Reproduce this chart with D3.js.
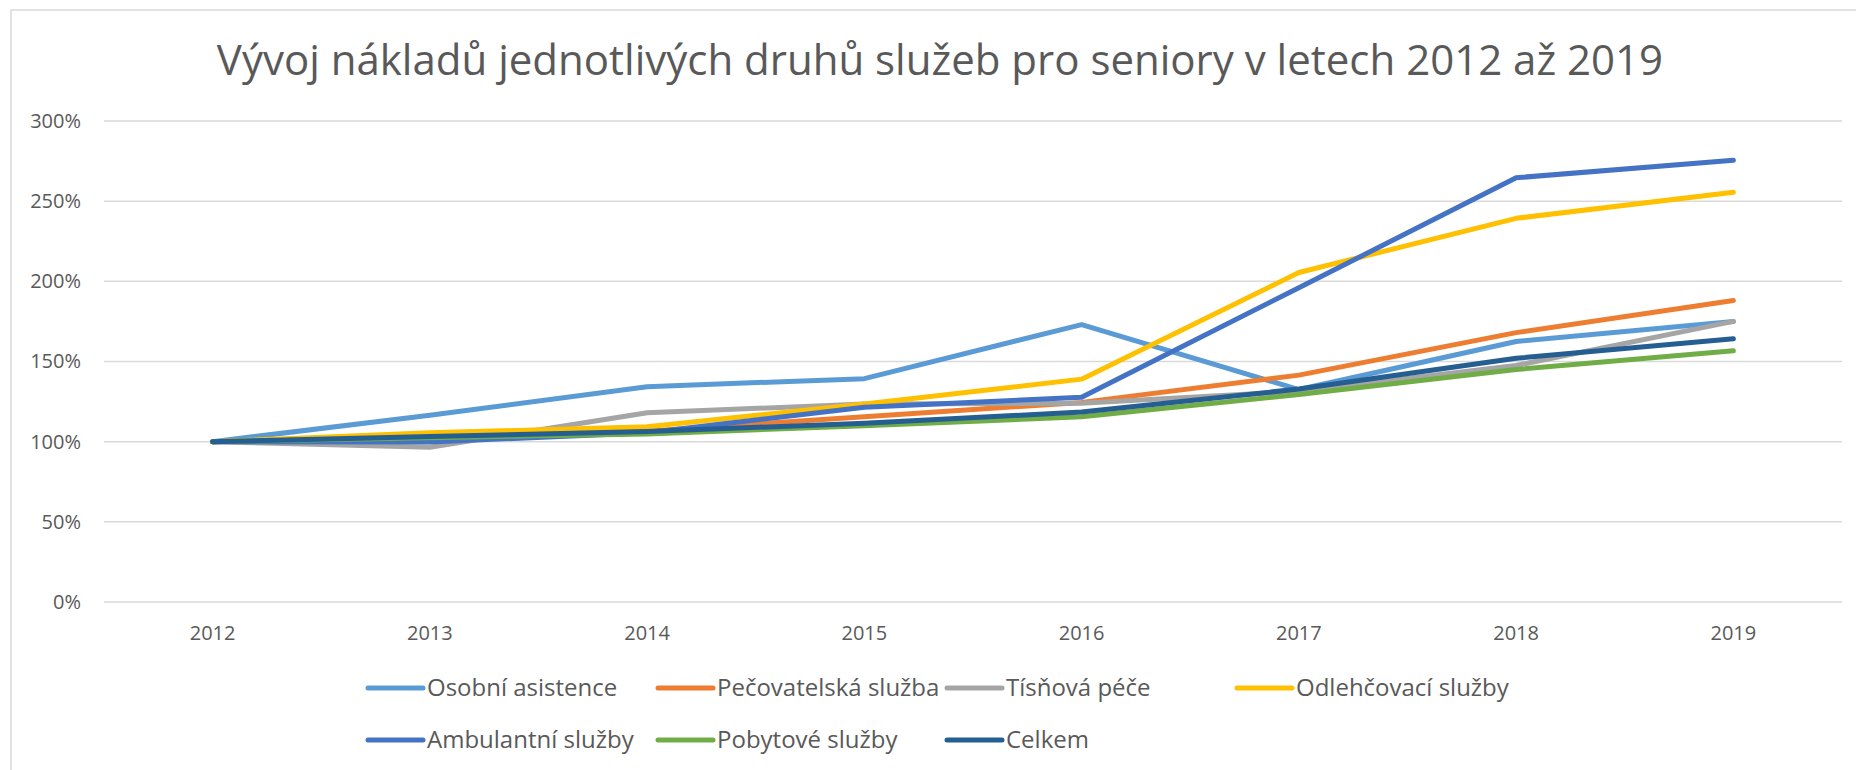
<!DOCTYPE html>
<html><head><meta charset="utf-8">
<script src="https://cdn.jsdelivr.net/npm/d3@7"></script>
<style>
html,body{margin:0;padding:0;background:#fff;}
text{font-family:"Open Sans","Noto Sans",sans-serif;fill:#595959;}
</style></head>
<body><svg id="c" width="1856" height="770"></svg>
<script>
const title = "Vývoj nákladů jednotlivých druhů služeb pro seniory v letech 2012 až 2019";
const years = ["2012","2013","2014","2015","2016","2017","2018","2019"];
const yTicks = [0, 50, 100, 150, 200, 250, 300];
const seriesNames = ["Osobní asistence","Pečovatelská služba","Tísňová péče","Odlehčovací služby","Ambulantní služby","Pobytové služby","Celkem"];
const seriesColors = ["#5B9BD5","#ED7D31","#A5A5A5","#FFC000","#4472C4","#70AD47","#255E91"];
const osobni       = [100, 116.5, 134.3, 139.3, 173.0, 132.5, 162.5, 175.0];
const pecovatelska = [100, 104.0, 106.5, 115.5, 124.5, 141.5, 168.0, 188.0];
const tisnova      = [100,  96.5, 118.0, 123.5, 124.0, 131.5, 147.5, 175.0];
const odlehcovaci  = [100, 105.5, 109.3, 123.5, 139.0, 205.5, 239.3, 255.5];
const ambulantni   = [100,  99.8, 105.5, 121.5, 127.7, 196.0, 264.6, 275.5];
const pobytove     = [100, 102.5, 104.8, 110.0, 115.5, 129.4, 145.0, 156.7];
const celkem       = [100, 103.2, 106.3, 111.5, 118.5, 132.8, 152.0, 164.2];
const seriesValues = [osobni, pecovatelska, tisnova, odlehcovaci, ambulantni, pobytove, celkem];

const svg = d3.select("#c");
svg.append("rect").attr("x",11).attr("y",10).attr("width",1870).attr("height",780)
  .attr("fill","none").attr("stroke","#d9d9d9").attr("stroke-width",1.5);

svg.append("text").attr("x",940).attr("y",75).attr("text-anchor","middle")
  .style("font-size","42px").text(title);

const x = d3.scaleBand().domain(years).range([104,1842]);
const y = d3.scaleLinear().domain([0,300]).range([602,121]);

svg.append("g").selectAll("line").data(yTicks).join("line")
  .attr("x1",104).attr("x2",1842).attr("y1",d=>y(d)).attr("y2",d=>y(d))
  .attr("stroke","#d9d9d9").attr("stroke-width",1.5);

const yAxis = d3.axisLeft(y).tickValues(yTicks).tickFormat(d=>d+"%").tickSize(0).tickPadding(0);
const gy = svg.append("g").attr("transform","translate(81,0)").call(yAxis);
gy.select(".domain").remove();
gy.selectAll("text").style("font-size","20px").style("fill","#595959");

const xAxis = d3.axisBottom(x).tickSize(0).tickPadding(0);
const gx = svg.append("g").attr("transform","translate(0,626)").call(xAxis);
gx.select(".domain").remove();
gx.selectAll("text").style("font-size","20px").style("fill","#595959");

const line = d3.line().x((d,i)=>x(years[i])+x.bandwidth()/2).y(d=>y(d));
svg.append("g").selectAll("path").data(seriesValues).join("path")
  .attr("d",d=>line(d)).attr("fill","none")
  .attr("stroke",(d,i)=>seriesColors[i]).attr("stroke-width",5)
  .attr("stroke-linecap","round").attr("stroke-linejoin","round");

const legendX = [368, 658, 947, 1237];
const legendY = [688, 740];
const lg = svg.append("g").selectAll("g").data(seriesNames).join("g")
  .attr("transform",(d,i)=>`translate(${legendX[i%4]},${legendY[Math.floor(i/4)]})`);
lg.append("line").attr("x1",0).attr("x2",55).attr("y1",0).attr("y2",0)
  .attr("stroke",(d,i)=>seriesColors[i]).attr("stroke-width",5).attr("stroke-linecap","round");
lg.append("text").attr("x",59).attr("y",0).attr("dy","0.35em")
  .style("font-size","24px").text(d=>d);
</script></body></html>
